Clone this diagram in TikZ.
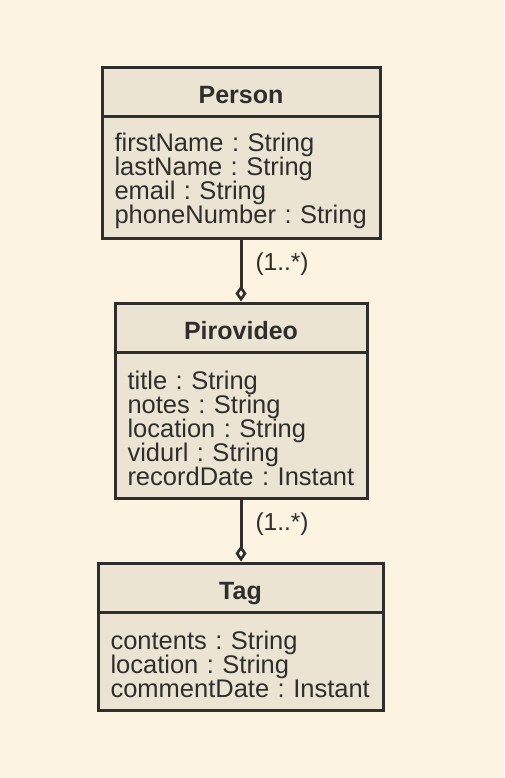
\documentclass[tikz,border=0pt]{standalone}
\usepackage{fontspec}
\setmainfont{Liberation Sans}
\usetikzlibrary{arrows.meta}
\definecolor{bgc}{RGB}{253,243,225}
\definecolor{boxc}{RGB}{236,228,211}
\definecolor{linec}{RGB}{48,46,44}
\definecolor{txtc}{RGB}{48,46,44}
\newcommand{\topstrut}{\rule{0pt}{26pt}}
\tikzset{
  hdr/.style={draw=linec, fill=boxc, line width=3pt, inner sep=0pt,
    font=\fontsize{25}{24}\selectfont\bfseries, text=txtc, minimum height=49pt,
    text height=24pt, text depth=1pt},
  attrs/.style={draw=linec, fill=boxc, line width=3pt, inner xsep=12.5pt, inner ysep=0pt,
    align=left, font=\fontsize{25.5}{24}\selectfont\frenchspacing, text=txtc},
  assoc/.style={draw=linec, line width=3pt, -{Diamond[open, length=16pt, width=11pt, line width=2.6pt]}},
  mult/.style={font=\fontsize{24.5}{24}\selectfont, text=txtc, inner sep=1pt, anchor=west}
}
\begin{document}
\begin{tikzpicture}[x=1pt,y=1pt]
\fill[bgc] (0,0) rectangle (504,-778);
\useasboundingbox (0,0) rectangle (504,-778);
% Person
\node[hdr, minimum width=278pt] (personH) at (241,-92.5) {Person};
\node[attrs, text width=253pt, minimum height=121pt] (personB) at (241,-177.5)
  {\topstrut firstName~:~String\\lastName~:~String\\email~:~String\\phoneNumber~:~String};
% Pirovideo
\node[hdr, minimum width=252pt] (pvH) at (241,-327.5) {Pirovideo};
\node[attrs, text width=227pt, minimum height=146pt] (pvB) at (241,-425)
  {\topstrut title~:~String\\notes~:~String\\location~:~String\\vidurl~:~String\\recordDate~:~Instant};
% Tag
\node[hdr, minimum width=285pt] (tagH) at (240.5,-587.5) {Tag};
\node[attrs, text width=260pt, minimum height=98pt] (tagB) at (240.5,-661)
  {\topstrut contents~:~String\\location~:~String\\commentDate~:~Instant};
% connectors
\draw[assoc] (personB.south) -- node[mult, pos=0.4, xshift=12pt] (m1) {(1..*)} (pvH.north);
\draw[assoc] (pvB.south) -- node[mult, pos=0.4, xshift=12pt] (m2) {(1..*)} (pvB.south |- tagH.north);
\end{tikzpicture}
\end{document}
